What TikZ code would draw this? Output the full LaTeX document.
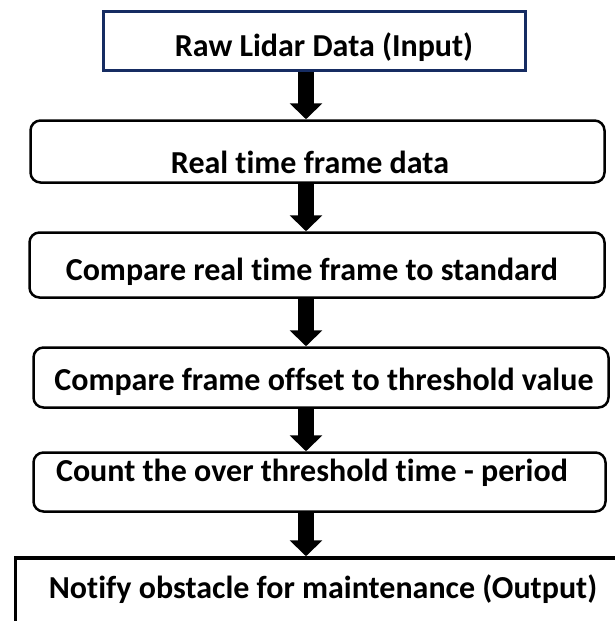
\documentclass[tikz,border=0pt]{standalone}
\usepackage{fontspec}
\setmainfont[Ligatures=NoCommon]{Carlito}
\usetikzlibrary{arrows.meta,calc}
\definecolor{navy}{RGB}{22,44,98}
\begin{document}
\begin{tikzpicture}[x=1pt,y=-1pt,
  boxbase/.style={draw=black,line width=2.5pt,rounded corners=10pt,fill=white,inner sep=0pt},
  topbox/.style={draw=navy,line width=3pt,fill=white,inner sep=0pt},
  outbox/.style={draw=black,line width=3.5pt,fill=white,inner sep=0pt},
  lbl/.style={font=\fontsize{32}{34}\selectfont\bfseries,anchor=base,inner sep=0pt},
  flow/.style={line width=16pt,-{Triangle[width=32pt,length=16pt]}}]
\useasboundingbox[fill=white] (0,0) rectangle (615,621);
\coordinate (ax) at (306,0);
\node[topbox,minimum width=422pt,minimum height=59pt] (b1) at (314.5,41) {};
\node[boxbase,minimum width=574pt,minimum height=62pt] (b2) at (317.5,151.5) {};
\node[boxbase,minimum width=575pt,minimum height=65pt] (b3) at (317,265) {};
\node[boxbase,minimum width=575pt,minimum height=60pt] (b4) at (321,377.5) {};
\node[boxbase,minimum width=572pt,minimum height=59pt] (b5) at (319.5,482) {};
\begin{scope}
\clip (0,0) rectangle (615,621);
\node[outbox,minimum width=620pt,minimum height=90pt] (b6) at (325.5,603) {};
\end{scope}
\node[lbl] (t1) at (324,56) {Raw Lidar Data (Input)};
\node[lbl] (t2) at (310,173) {Real time frame data};
\node[lbl] (t3) at (312,280) {Compare real time frame to standard};
\node[lbl] (t4) at (324,390) {Compare frame offset to threshold value};
\node[lbl] (t5) at (312,481) {Count the over threshold time - period};
\node[lbl] (t6) at (323,598) {Notify obstacle for maintenance (Output)};
\draw[flow] (b1.south -| ax) -- (b2.north -| ax);
\draw[flow] (b2.south -| ax) -- (b3.north -| ax);
\draw[flow] (b3.south -| ax) -- (b4.north -| ax);
\draw[flow] (b4.south -| ax) -- (b5.north -| ax);
\draw[flow] (b5.south -| ax) -- (b6.north -| ax);
\end{tikzpicture}
\end{document}
